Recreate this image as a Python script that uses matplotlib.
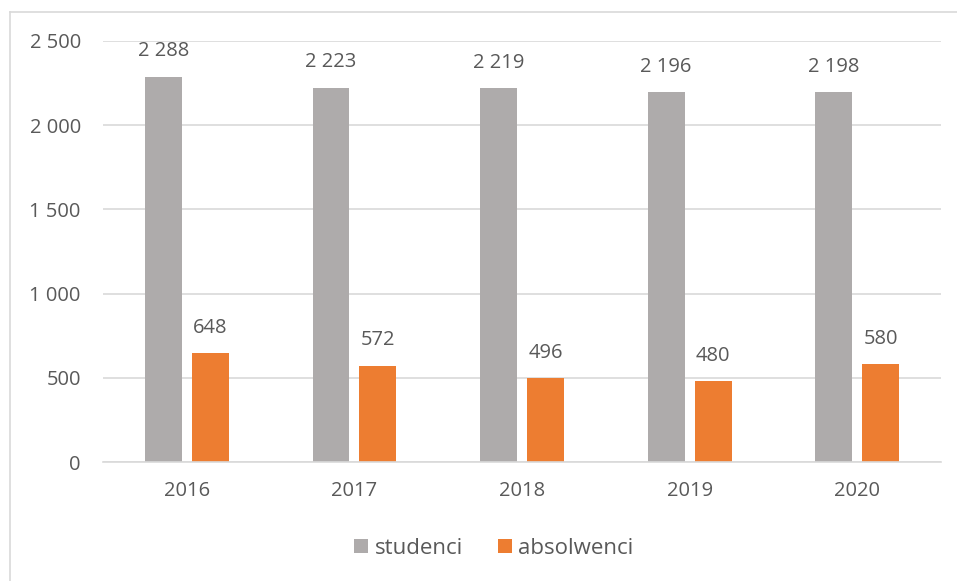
import matplotlib
matplotlib.use('Agg')
import matplotlib.pyplot as plt
import numpy as np
from matplotlib.lines import Line2D

years = ['2016', '2017', '2018', '2019', '2020']
studenci = [2288, 2223, 2219, 2196, 2198]
absolwenci = [648, 572, 496, 480, 580]
yticks = [0, 500, 1000, 1500, 2000, 2500]

GRAY = '#AEABAB'
ORANGE = '#ED7D31'
TXT = '#595959'

plt.rcParams['font.family'] = ['Open Sans', 'DejaVu Sans']


def fmt(v):
    # Polish-style thousands separator (space)
    return f"{v:,}".replace(',', ' ')


fig = plt.figure(figsize=(9.57, 5.81), dpi=100)
ax = fig.add_axes([103 / 957, 1 - 462 / 581, (941 - 103) / 957, (462 - 41) / 581])

x = np.arange(len(years))
w = 0.22
off = 0.14
b1 = ax.bar(x - off, studenci, w, color=GRAY, label='studenci', zorder=2)
b2 = ax.bar(x + off, absolwenci, w, color=ORANGE, label='absolwenci', zorder=2)

for bars, vals in ((b1, studenci), (b2, absolwenci)):
    for rect, v in zip(bars, vals):
        ax.annotate(fmt(v), (rect.get_x() + rect.get_width() / 2, v),
                    xytext=(0, 11), textcoords='offset points',
                    ha='center', va='bottom', fontsize=14.5, color=TXT)

ax.set_xlim(-0.5, len(years) - 0.5)
ax.set_ylim(0, 2500)
ax.set_yticks(yticks)
ax.set_yticklabels([fmt(v) for v in yticks])
ax.set_xticks(x)
ax.set_xticklabels(years)
ax.tick_params(axis='both', length=0, labelsize=14.5, labelcolor=TXT)
ax.tick_params(axis='y', pad=16)
ax.tick_params(axis='x', pad=14)
ax.grid(axis='y', color='#D9D9D9', linewidth=1.2, zorder=0)
for s in ('top', 'right', 'left'):
    ax.spines[s].set_visible(False)
ax.spines['bottom'].set_color('#D9D9D9')
ax.spines['bottom'].set_linewidth(1.2)

fig.legend(handles=[b1, b2], labels=['studenci', 'absolwenci'], loc='center',
           bbox_to_anchor=(494 / 957, 1 - 548 / 581), ncol=2, frameon=False,
           fontsize=16, labelcolor=TXT, handlelength=0.6, handleheight=0.6,
           handletextpad=0.3, columnspacing=1.6)

# chart-area border (left and top edges visible in the crop)
fig.add_artist(Line2D([10 / 957, 10 / 957], [0, 1 - 12 / 581], color='#D9D9D9', lw=1.2))
fig.add_artist(Line2D([10 / 957, 1], [1 - 12 / 581, 1 - 12 / 581], color='#D9D9D9', lw=1.2))

fig.savefig('out.png', dpi=100)
